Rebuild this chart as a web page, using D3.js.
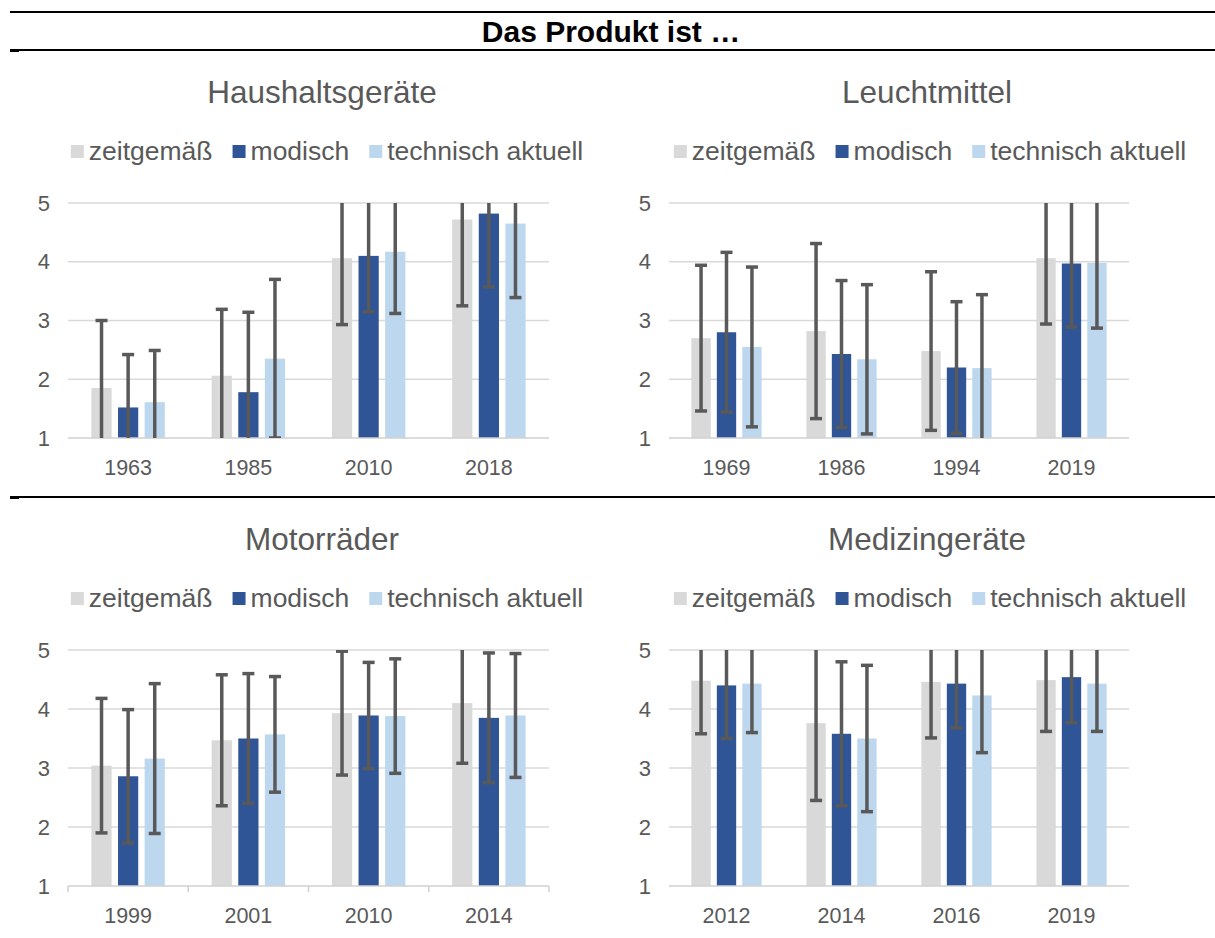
<!DOCTYPE html>
<html>
<head>
<meta charset="utf-8">
<script src="https://cdn.jsdelivr.net/npm/d3@7"></script>
<style>
    body { margin: 0; background: #fff; }
    text { font-family: "Liberation Sans", Arial, sans-serif; }
</style>
</head>
<body>
<div id="wide"></div>
<script>
// Data
let series = ["zeitgemäß", "modisch", "technisch aktuell"];
let panel_titles = ["Haushaltsgeräte", "Leuchtmittel", "Motorräder", "Medizingeräte"];
let y_ticks = [1, 2, 3, 4, 5];

let years_haushalt = ["1963", "1985", "2010", "2018"];
let mean_haushalt = [[1.85, 1.52, 1.61], [2.06, 1.78, 2.35], [4.06, 4.10, 4.17], [4.72, 4.82, 4.65]];
let err_haushalt = [[1.15, 0.90, 0.88], [1.13, 1.36, 1.35], [1.13, 0.95, 1.05], [1.47, 1.25, 1.26]];

let years_leucht = ["1969", "1986", "1994", "2019"];
let mean_leucht = [[2.70, 2.80, 2.55], [2.82, 2.43, 2.34], [2.48, 2.20, 2.19], [4.06, 3.97, 3.98]];
let err_leucht = [[1.24, 1.36, 1.36], [1.49, 1.25, 1.27], [1.35, 1.12, 1.25], [1.12, 1.08, 1.11]];

let years_motor = ["1999", "2001", "2010", "2014"];
let mean_motor = [[3.04, 2.86, 3.16], [3.47, 3.50, 3.57], [3.93, 3.89, 3.88], [4.10, 3.85, 3.89]];
let err_motor = [[1.14, 1.13, 1.27], [1.11, 1.10, 0.98], [1.05, 0.90, 0.97], [1.02, 1.10, 1.05]];

let years_medizin = ["2012", "2014", "2016", "2019"];
let mean_medizin = [[4.48, 4.40, 4.43], [3.76, 3.58, 3.50], [4.46, 4.43, 4.23], [4.49, 4.54, 4.43]];
let err_medizin = [[0.90, 0.90, 0.83], [1.31, 1.22, 1.24], [0.95, 0.75, 0.97], [0.87, 0.77, 0.81]];

const COLORS = ["#d9d9d9", "#2f5597", "#bdd7ee"];
const TEXT = "#595959";

let params = {
    width: 1215,
    height: 938,
    panels: [
        { left: 68, right: 549, top: 203, bottom: 438, titleX: 322, titleY: 92, legendX: 327, legendY: 151, ticks: false },
        { left: 669, right: 1129, top: 203, bottom: 438, titleX: 927, titleY: 92, legendX: 930, legendY: 151, ticks: false },
        { left: 68, right: 549, top: 650, bottom: 886, titleX: 322, titleY: 539, legendX: 327, legendY: 598, ticks: true },
        { left: 669, right: 1129, top: 650, bottom: 886, titleX: 927, titleY: 539, legendX: 930, legendY: 598, ticks: false }
    ]
};

let panel_data = [
    { years: years_haushalt, mean: mean_haushalt, err: err_haushalt },
    { years: years_leucht, mean: mean_leucht, err: err_leucht },
    { years: years_motor, mean: mean_motor, err: err_motor },
    { years: years_medizin, mean: mean_medizin, err: err_medizin }
];

let svg = d3.select("#wide")
    .append("svg")
    .attr("width", params.width)
    .attr("height", params.height);

// Header with rules
svg.append("line").attr("x1", 10).attr("x2", params.width).attr("y1", 12).attr("y2", 12)
    .attr("stroke", "#000").attr("stroke-width", 2);
svg.append("text")
    .attr("x", 611).attr("y", 42)
    .attr("text-anchor", "middle")
    .attr("font-weight", "bold")
    .attr("font-size", 30)
    .attr("fill", "#000")
    .text("Das Produkt ist …");

[50, 497].forEach(function (y) {
    svg.append("line").attr("x1", 19).attr("x2", params.width).attr("y1", y).attr("y2", y)
        .attr("stroke", "#000").attr("stroke-width", 2);
    svg.append("rect").attr("x", 10).attr("y", y - 1).attr("width", 9).attr("height", 3).attr("fill", "#000");
});

params.panels.forEach(function (p, pi) {
    let d = panel_data[pi];
    let g = svg.append("g");

    let y = d3.scaleLinear().domain([1, 5]).range([p.bottom, p.top]);
    let x0 = d3.scaleBand().domain(d.years).range([p.left, p.right]).padding(0);
    let x1 = d3.scaleBand().domain(series).range([0, x0.bandwidth()])
        .paddingInner(0.24).paddingOuter(0.88);

    // Title
    g.append("text")
        .attr("x", p.titleX).attr("y", p.titleY)
        .attr("dy", "0.35em")
        .attr("text-anchor", "middle")
        .attr("font-size", 31.5)
        .attr("fill", TEXT)
        .text(panel_titles[pi]);

    // Legend
    let legend = g.append("g");
    let lx = 0;
    series.forEach(function (s, si) {
        let item = legend.append("g").attr("transform", "translate(" + lx + ",0)");
        item.append("rect").attr("x", 0).attr("y", -6).attr("width", 13).attr("height", 13).attr("fill", COLORS[si]);
        let t = item.append("text").attr("x", 18).attr("dy", "0.35em")
            .attr("font-size", 26.5).attr("fill", TEXT).text(s);
        lx += 18 + t.node().getComputedTextLength() + 20;
    });
    let lw = lx - 20;
    legend.attr("transform", "translate(" + (p.legendX - lw / 2) + "," + p.legendY + ")");

    // Gridlines
    g.append("g")
        .selectAll("line")
        .data(y_ticks.slice(1))
        .enter().append("line")
        .attr("x1", p.left).attr("x2", p.right)
        .attr("y1", function (v) { return y(v); })
        .attr("y2", function (v) { return y(v); })
        .attr("stroke", "#d9d9d9")
        .attr("stroke-width", 1.5);

    // Y labels
    g.append("g")
        .selectAll("text")
        .data(y_ticks)
        .enter().append("text")
        .attr("x", p.left - 18)
        .attr("y", function (v) { return y(v); })
        .attr("dy", "0.35em")
        .attr("text-anchor", "end")
        .attr("font-size", 22)
        .attr("fill", TEXT)
        .text(function (v) { return v; });

    // Bars
    let groups = g.append("g")
        .selectAll("g")
        .data(d.years)
        .enter().append("g")
        .attr("transform", function (yr) { return "translate(" + x0(yr) + ",0)"; });

    groups.selectAll("rect")
        .data(function (yr, i) { return series.map(function (s, si) { return { s: s, si: si, v: d.mean[i][si] }; }); })
        .enter().append("rect")
        .attr("x", function (b) { return x1(b.s); })
        .attr("width", x1.bandwidth())
        .attr("y", function (b) { return y(b.v); })
        .attr("height", function (b) { return y(1) - y(b.v); })
        .attr("fill", function (b) { return COLORS[b.si]; });

    // Axis line
    g.append("line")
        .attr("x1", p.left).attr("x2", p.right)
        .attr("y1", y(1)).attr("y2", y(1))
        .attr("stroke", "#d0d0d0")
        .attr("stroke-width", 1.5);

    if (p.ticks) {
        g.append("g")
            .selectAll("line")
            .data(d.years.map(function (yr) { return x0(yr); }).concat([p.right]))
            .enter().append("line")
            .attr("x1", function (v) { return v; }).attr("x2", function (v) { return v; })
            .attr("y1", y(1)).attr("y2", y(1) + 6)
            .attr("stroke", "#d0d0d0")
            .attr("stroke-width", 1.5);
    }

    // X labels
    g.append("g")
        .selectAll("text")
        .data(d.years)
        .enter().append("text")
        .attr("x", function (yr) { return x0(yr) + x0.bandwidth() / 2; })
        .attr("y", y(1) + 29)
        .attr("dy", "0.35em")
        .attr("text-anchor", "middle")
        .attr("font-size", 21.5)
        .attr("fill", TEXT)
        .text(function (yr) { return yr; });

    // Error bars, clipped to the value range
    let clipId = "clip" + pi;
    svg.append("clipPath").attr("id", clipId)
        .append("rect")
        .attr("x", p.left).attr("y", y(5))
        .attr("width", p.right - p.left).attr("height", y(1) - y(5));

    let errs = g.append("g").attr("clip-path", "url(#" + clipId + ")");
    d.years.forEach(function (yr, i) {
        series.forEach(function (s, si) {
            let cx = x0(yr) + x1(s) + x1.bandwidth() / 2;
            let lo = d.mean[i][si] - d.err[i][si];
            let hi = d.mean[i][si] + d.err[i][si];
            errs.append("line")
                .attr("x1", cx).attr("x2", cx)
                .attr("y1", y(lo)).attr("y2", y(hi))
                .attr("stroke", "#595959").attr("stroke-width", 3.5);
            [lo, hi].forEach(function (v) {
                errs.append("line")
                    .attr("x1", cx - 6).attr("x2", cx + 6)
                    .attr("y1", y(v)).attr("y2", y(v))
                    .attr("stroke", "#595959").attr("stroke-width", 3.5);
            });
        });
    });
});
</script>
</body>
</html>
